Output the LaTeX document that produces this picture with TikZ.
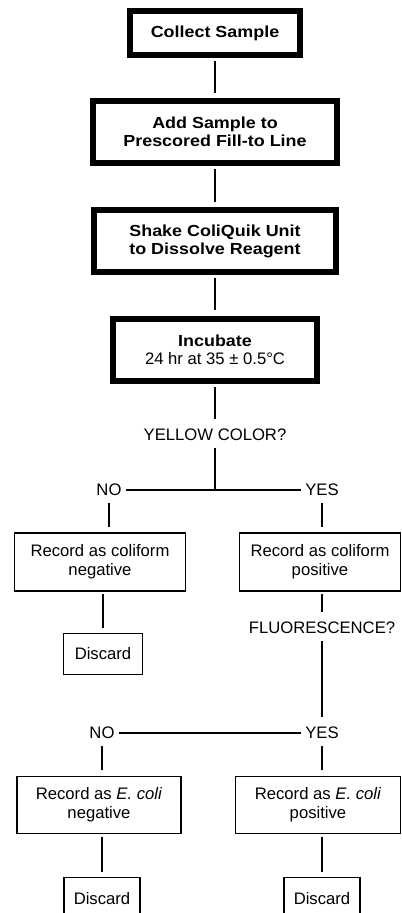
\documentclass[tikz,border=0pt]{standalone}
\usepackage{fontspec}
\setmainfont{Liberation Sans}
\newfontfamily\widefont[FakeStretch=1.12]{Liberation Sans}
\usepackage{tikz}
\tikzstyle{line} = [draw, line width=1.2pt, shorten <=2pt, shorten >=4pt]
\tikzstyle{flat} = [shorten <=0pt, shorten >=0pt]
\tikzstyle{heavy} = [draw, line width=4.5pt, align=center, inner sep=2pt, font=\widefont\fontsize{12}{13.5}\selectfont\bfseries]
\tikzstyle{plain} = [draw, line width=1.1pt, align=center, inner sep=2pt, font=\fontsize{12.5}{14}\selectfont]
\tikzstyle{question} = [draw=none, font=\fontsize{12.5}{14}\selectfont]

\begin{document}
\begin{tikzpicture}[node distance=81.75pt, auto]

\useasboundingbox (-161.25pt,24.75pt) rectangle (139.5pt,-660pt);

% main steps
\node (cs) [heavy, minimum width=126.75pt, minimum height=33pt] {Collect Sample};
\node (add) [heavy, node distance=74.25pt, below of=cs, minimum width=183pt, minimum height=46.5pt] {Add Sample to\\Prescored Fill-to Line};
\node (shake) [heavy, below of=add, minimum width=181.5pt, minimum height=46.5pt] {Shake ColiQuik Unit\\to Dissolve Reagent};
\node (inc) [heavy, below of=shake, minimum width=153pt, minimum height=47pt] {Incubate\\{\normalfont\fontsize{12.5}{14}\selectfont 24 hr at 35 ± 0.5°C}};
\node (yel) [question, node distance=63.75pt, below of=inc] {YELLOW COLOR?};

% first split
\node (no1) [question, node distance=41.25pt, below of=yel, xshift=-79.5pt] {NO};
\node (yes1) [question, node distance=41.25pt, below of=yel, xshift=80.25pt] {YES};
\node (neg1) [plain, node distance=54pt, below of=no1, xshift=-6.75pt, minimum width=128pt, minimum height=43.5pt] {Record as coliform\\negative};
\node (pos1) [plain, node distance=54pt, below of=yes1, xshift=-1.5pt, minimum width=121pt, minimum height=43.5pt] {Record as coliform\\positive};
\node (disc1) [plain, node distance=69pt, below of=neg1, xshift=2.25pt, minimum width=59pt, minimum height=30.5pt] {Discard};
\node (fluor) [question, node distance=49.5pt, below of=pos1, xshift=1.5pt] {FLUORESCENCE?};

% second split
\node (no2) [question, node distance=78.75pt, below of=fluor, xshift=-165pt] {NO};
\node (yes2) [question, node distance=78.75pt, below of=fluor] {YES};
\node (neg2) [plain, node distance=54pt, below of=no2, xshift=-2.25pt, minimum width=123pt, minimum height=43pt] {Record as \textit{E. coli}\\negative};
\node (pos2) [plain, node distance=54pt, below of=yes2, xshift=-3pt, minimum width=124pt, minimum height=43pt] {Record as \textit{E. coli}\\positive};
\node (disc3) [plain, node distance=70.5pt, below of=neg2, xshift=2.25pt, minimum width=57pt, minimum height=32pt] {Discard};
\node (disc4) [plain, node distance=70.5pt, below of=pos2, xshift=3pt, minimum width=57pt, minimum height=32pt] {Discard};

% edges
\path[line] (cs) -- (add);
\path[line] (add) -- (shake);
\path[line] (shake) -- (inc);
\path[line] (inc) -- (yel);
\path[line, shorten >=0pt] (yel) -- (yel |- no1);
\path[line, flat] (no1) -- (yes1);
\path[line] (no1) -- (no1 |- neg1.north);
\path[line] (yes1) -- (yes1 |- pos1.north);
\path[line] (disc1 |- neg1.south) -- (disc1);
\path[line] (fluor |- pos1.south) -- (fluor);
\path[line] (fluor) -- (yes2);
\path[line, flat] (no2) -- (yes2);
\path[line] (no2) -- (no2 |- neg2.north);
\path[line] (yes2) -- (yes2 |- pos2.north);
\path[line] (disc3 |- neg2.south) -- (disc3);
\path[line] (disc4 |- pos2.south) -- (disc4);

\end{tikzpicture}
\end{document}
